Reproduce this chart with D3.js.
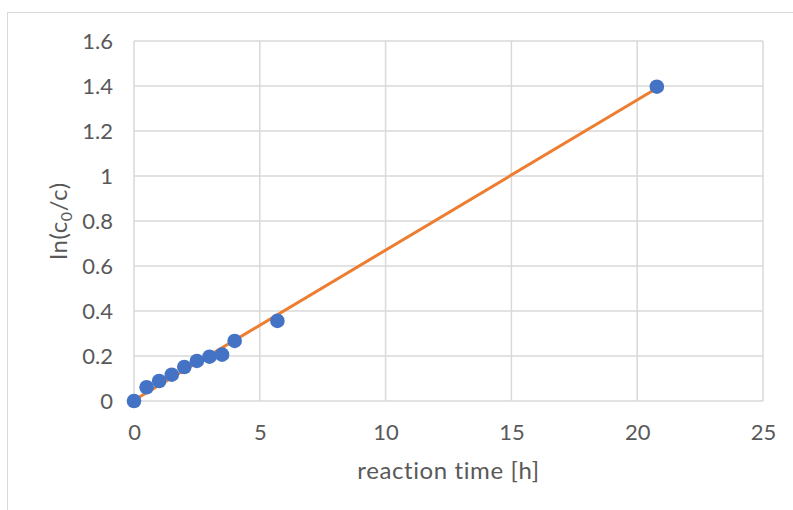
<!DOCTYPE html>
<html>
<head>
<meta charset="utf-8">
<script src="https://cdn.jsdelivr.net/npm/d3@7"></script>
<style>
  html, body { margin: 0; padding: 0; background: #fff; }
  svg { display: block; }
  text { font-family: Lato, "Open Sans", sans-serif; fill: #595959; }
</style>
</head>
<body>
<svg id="chart" width="793" height="510"></svg>
<script>
// Measured points: reaction time (h) vs ln(c0/c)
const timeH = [0, 0.5, 1.0, 1.5, 2.0, 2.5, 3.0, 3.5, 4.0, 5.7, 20.78];
const lnRatio = [0, 0.061, 0.089, 0.117, 0.151, 0.178, 0.197, 0.206, 0.267, 0.356, 1.397];

// Linear trend line endpoints
const trendX = [0, 20.78];
const trendY = [0.003, 1.39];

const xTicks = [0, 5, 10, 15, 20, 25];
const yTicks = [0, 0.2, 0.4, 0.6, 0.8, 1, 1.2, 1.4, 1.6];

const svg = d3.select("#chart");
const plotL = 134, plotR = 763, plotT = 41, plotB = 401;
const fontStack = 'Lato, "Open Sans", sans-serif';

// Chart frame
svg.append("rect")
  .attr("x", 7.5).attr("y", 12.5)
  .attr("width", 820).attr("height", 620)
  .attr("fill", "none").attr("stroke", "#d9d9d9").attr("stroke-width", 1);

const x = d3.scaleLinear().domain([0, 25]).range([plotL, plotR]);
const y = d3.scaleLinear().domain([0, 1.6]).range([plotB, plotT]);

// Gridlines
const grid = svg.append("g").attr("stroke", "#d9d9d9").attr("stroke-width", 1.5);
grid.selectAll("line.h").data(yTicks).join("line")
  .attr("x1", plotL).attr("x2", plotR)
  .attr("y1", d => y(d)).attr("y2", d => y(d));
grid.selectAll("line.v").data(xTicks).join("line")
  .attr("x1", d => x(d)).attr("x2", d => x(d))
  .attr("y1", plotT).attr("y2", plotB);

// Axes (labels only)
const xAxis = svg.append("g")
  .attr("transform", `translate(0,${plotB})`)
  .call(d3.axisBottom(x).tickValues(xTicks).tickSize(0).tickFormat(d3.format("d")));
xAxis.selectAll("text").attr("y", 39).attr("dy", 0);
const yAxis = svg.append("g")
  .attr("transform", `translate(${plotL},0)`)
  .call(d3.axisLeft(y).tickValues(yTicks).tickSize(0).tickPadding(21).tickFormat(d => String(+d.toFixed(1))));
[xAxis, yAxis].forEach(a => {
  a.select(".domain").remove();
  a.selectAll("text").style("font-size", "22px").attr("fill", "#595959")
    .style("font-family", fontStack);
});

// Trend line
svg.append("line")
  .attr("x1", x(trendX[0])).attr("y1", y(trendY[0]))
  .attr("x2", x(trendX[1])).attr("y2", y(trendY[1]))
  .attr("stroke", "#ED7D31").attr("stroke-width", 3);

// Data markers
svg.append("g").selectAll("circle")
  .data(timeH.map((t, i) => [t, lnRatio[i]]))
  .join("circle")
  .attr("cx", d => x(d[0])).attr("cy", d => y(d[1]))
  .attr("r", 7.3).attr("fill", "#4472C4");

// Axis titles
svg.append("text")
  .attr("x", (plotL + plotR) / 2).attr("y", 479)
  .attr("text-anchor", "middle").style("font-size", "24px")
  .style("letter-spacing", "0.6px")
  .text("reaction time [h]");

const yt = svg.append("text")
  .attr("transform", `translate(67,${(plotT + plotB) / 2}) rotate(-90)`)
  .attr("text-anchor", "middle").style("font-size", "24px")
  .style("letter-spacing", "0.6px");
yt.append("tspan").text("ln(c");
yt.append("tspan").attr("dy", 5).style("font-size", "16px").text("0");
yt.append("tspan").attr("dy", -5).text("/c)");
</script>
</body>
</html>
